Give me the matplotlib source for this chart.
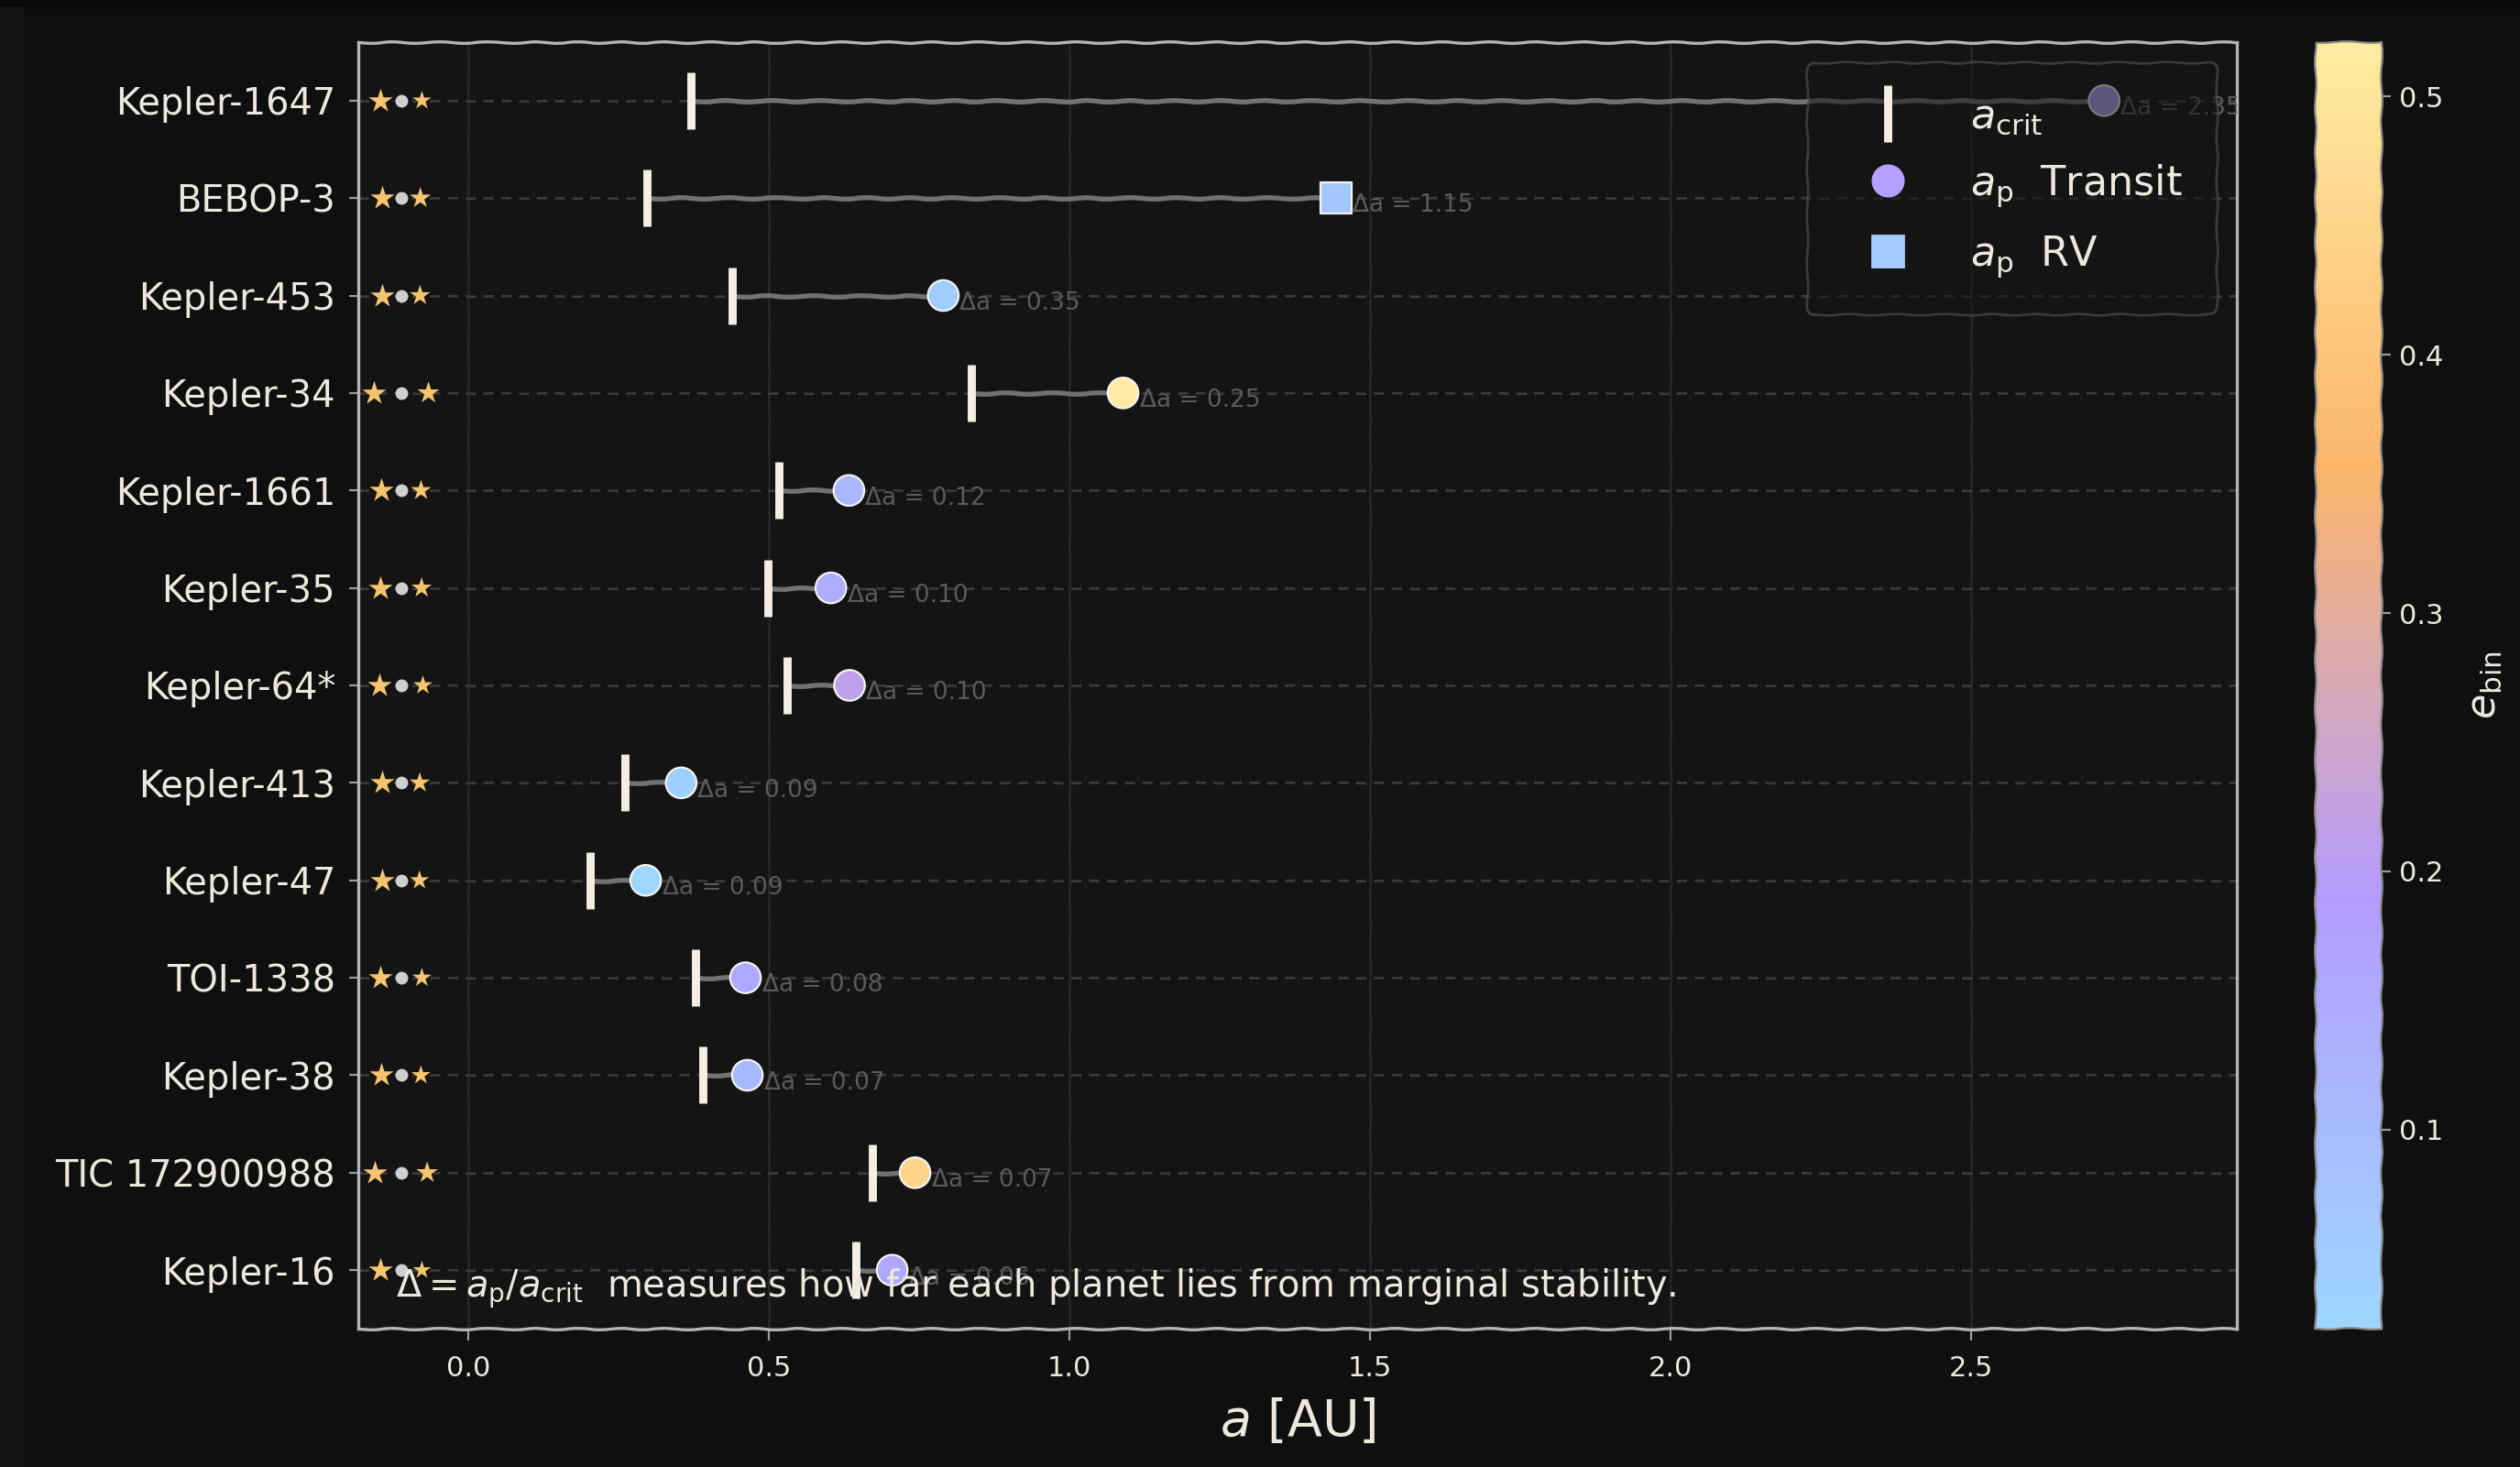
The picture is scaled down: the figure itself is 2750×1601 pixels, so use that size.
import numpy as np
import matplotlib
matplotlib.use('Agg')
import matplotlib.pyplot as plt
from matplotlib.colors import LinearSegmentedColormap, Normalize
from matplotlib.lines import Line2D
from matplotlib.patches import Rectangle

# circumbinary systems, ordered by distance from the stability limit
systems = ['Kepler-1647', 'BEBOP-3', 'Kepler-453', 'Kepler-34', 'Kepler-1661',
           'Kepler-35', 'Kepler-64*', 'Kepler-413', 'Kepler-47', 'TOI-1338',
           'Kepler-38', 'TIC 172900988', 'Kepler-16']
a_crit = [0.370, 0.297, 0.439, 0.837, 0.517, 0.499, 0.530, 0.261, 0.203, 0.378,
          0.390, 0.672, 0.645]
a_planet = [2.721, 1.443, 0.790, 1.089, 0.633, 0.603, 0.634, 0.354, 0.295, 0.461,
            0.464, 0.743, 0.705]
e_bin = [0.160, 0.070, 0.052, 0.521, 0.112, 0.142, 0.212, 0.037, 0.023, 0.156,
         0.103, 0.448, 0.159]
method = ['Transit', 'RV', 'Transit', 'Transit', 'Transit', 'Transit', 'Transit',
          'Transit', 'Transit', 'Transit', 'Transit', 'Transit', 'Transit']
# relative size of the secondary star glyph
secondary_scale = [0.78, 0.88, 0.85, 0.92, 0.85, 0.85, 0.8, 0.85, 0.8, 0.8, 0.8, 0.9, 0.75]

TEXT = '#ece8dc'
WOBBLE = (0.8, 55, 2)

plt.rcParams['font.family'] = ['DejaVu Sans']
plt.rcParams['mathtext.fontset'] = 'dejavusans'

cmap = LinearSegmentedColormap.from_list(
    'ebin', ['#9dd6ff', '#b49cff', '#fbb56b', '#ffeca2'])
norm = Normalize(min(e_bin), max(e_bin))

fig = plt.figure(figsize=(13.75, 8.005), dpi=200, facecolor='#0f0f0f')
# slightly different edge bands around the canvas
fig.patches.append(Rectangle((0, 0.995), 1, 0.005, transform=fig.transFigure,
                             color='#0a0a0a', zorder=-10))
fig.patches.append(Rectangle((0, 0), 0.0088, 0.995, transform=fig.transFigure,
                             color='#151515', zorder=-10))

ax = fig.add_axes([0.1422, 0.0943, 0.7455, 0.877])
cax = fig.add_axes([0.9189, 0.0943, 0.0262, 0.877])
ax.set_facecolor('#141414')

n = len(systems)
y = np.arange(n)[::-1]
ap = np.array(a_planet)
ac = np.array(a_crit)
e = np.array(e_bin)
is_rv = np.array([m == 'RV' for m in method])

# connectors from a_crit to the planet
for yi, lo, hi in zip(y, ac, ap):
    ln, = ax.plot([lo, hi], [yi, yi], color='#727272', lw=1.9, zorder=2,
                  solid_capstyle='round')
    ln.set_sketch_params(*WOBBLE)

ax.scatter(ac, y, marker='|', s=22 ** 2, linewidths=3.2, color='#f3efe2', zorder=3)

ax.scatter(ap[~is_rv], y[~is_rv], c=e[~is_rv], cmap=cmap, norm=norm, marker='o',
           s=145, edgecolors='#f2f2f2', linewidths=0.8, zorder=4)
ax.scatter(ap[is_rv], y[is_rv], c=e[is_rv], cmap=cmap, norm=norm, marker='s',
           s=145, edgecolors='#f2f2f2', linewidths=0.8, zorder=4)

for yi, lo, hi in zip(y, ac, ap):
    ax.annotate(f'Δa = {hi - lo:.2f}', (hi, yi), xytext=(6.5, -3),
                textcoords='offset points', fontsize=9.5, color='#5a5a5a',
                ha='left', va='center', zorder=3, clip_on=True)

# little binary-star glyph next to each name
x0 = -0.112
sep = 0.030 * (1 + e)
sec = np.array(secondary_scale)
ax.scatter(x0 - sep, y, marker='*', s=98, color='#f4c46f', linewidths=0, zorder=3)
ax.scatter(x0 + sep, y, marker='*', s=98 * sec ** 2, color='#f4c46f', linewidths=0, zorder=3)
ax.scatter(np.full(n, x0), y, marker='o', s=25, color='#cfcfcf', linewidths=0, zorder=3)

ax.set_xlim(-0.183, 2.942)
ax.set_ylim(-0.6, n - 0.4)
ax.set_xticks([0, 0.5, 1.0, 1.5, 2.0, 2.5])
ax.set_yticks(y)
ax.set_yticklabels(systems, fontsize=14.4)
ax.tick_params(colors='#9a9a9a', labelcolor=TEXT)
ax.tick_params(axis='y', pad=5.5)
ax.tick_params(axis='x', labelsize=11, pad=6, length=4.5)
ax.set_xlabel('$a$ [AU]', fontsize=20, color=TEXT, labelpad=6)

ax.grid(axis='x', color='#272727', lw=0.9)
ax.grid(axis='y', color='#3a3a3a', lw=1.0, ls=(0, (4, 3)))
ax.set_axisbelow(True)
for gl in ax.get_xgridlines() + ax.get_ygridlines():
    gl.set_sketch_params(0.3, 60, 2)
for name, sp in ax.spines.items():
    sp.set_color('#b5b5b5')
    sp.set_linewidth(1.2)
    if name in ('top', 'bottom'):
        sp.set_sketch_params(*WOBBLE)

handles = [Line2D([], [], marker='|', ls='none', color='#f3efe2', markersize=22, mew=3.2),
           Line2D([], [], marker='o', ls='none', color='#b3a0ff', markersize=12),
           Line2D([], [], marker='s', ls='none', color='#a6cbff', markersize=12)]
labels = [r'$a_{\rm crit}$', r'$a_{\rm p}$  Transit', r'$a_{\rm p}$  RV']
leg = ax.legend(handles, labels, loc='upper right', fontsize=16, frameon=True,
                facecolor='#141414', edgecolor='#5a5a5a', framealpha=0.55,
                labelcolor=TEXT, borderpad=0.85, labelspacing=0.62,
                handlelength=2.25, handletextpad=0.9)
leg.get_frame().set_sketch_params(*WOBBLE)
leg.set_zorder(5)

ax.text(0.02, 0.014, r'$\Delta = a_{\rm p}/a_{\rm crit}$  measures how far each planet '
        'lies from marginal stability.', transform=ax.transAxes, fontsize=14.4,
        color=TEXT, ha='left', va='bottom', zorder=6)

sm = plt.cm.ScalarMappable(norm=norm, cmap=cmap)
cb = fig.colorbar(sm, cax=cax)
cb.set_label(r'$e_{\rm bin}$', fontsize=16, color=TEXT, labelpad=8)
cb.ax.tick_params(labelsize=11, colors='#9a9a9a', labelcolor=TEXT)
cb.outline.set_edgecolor('#8a8a8a')
cb.outline.set_sketch_params(*WOBBLE)

fig.savefig('out.png', dpi=200, facecolor=fig.get_facecolor())
